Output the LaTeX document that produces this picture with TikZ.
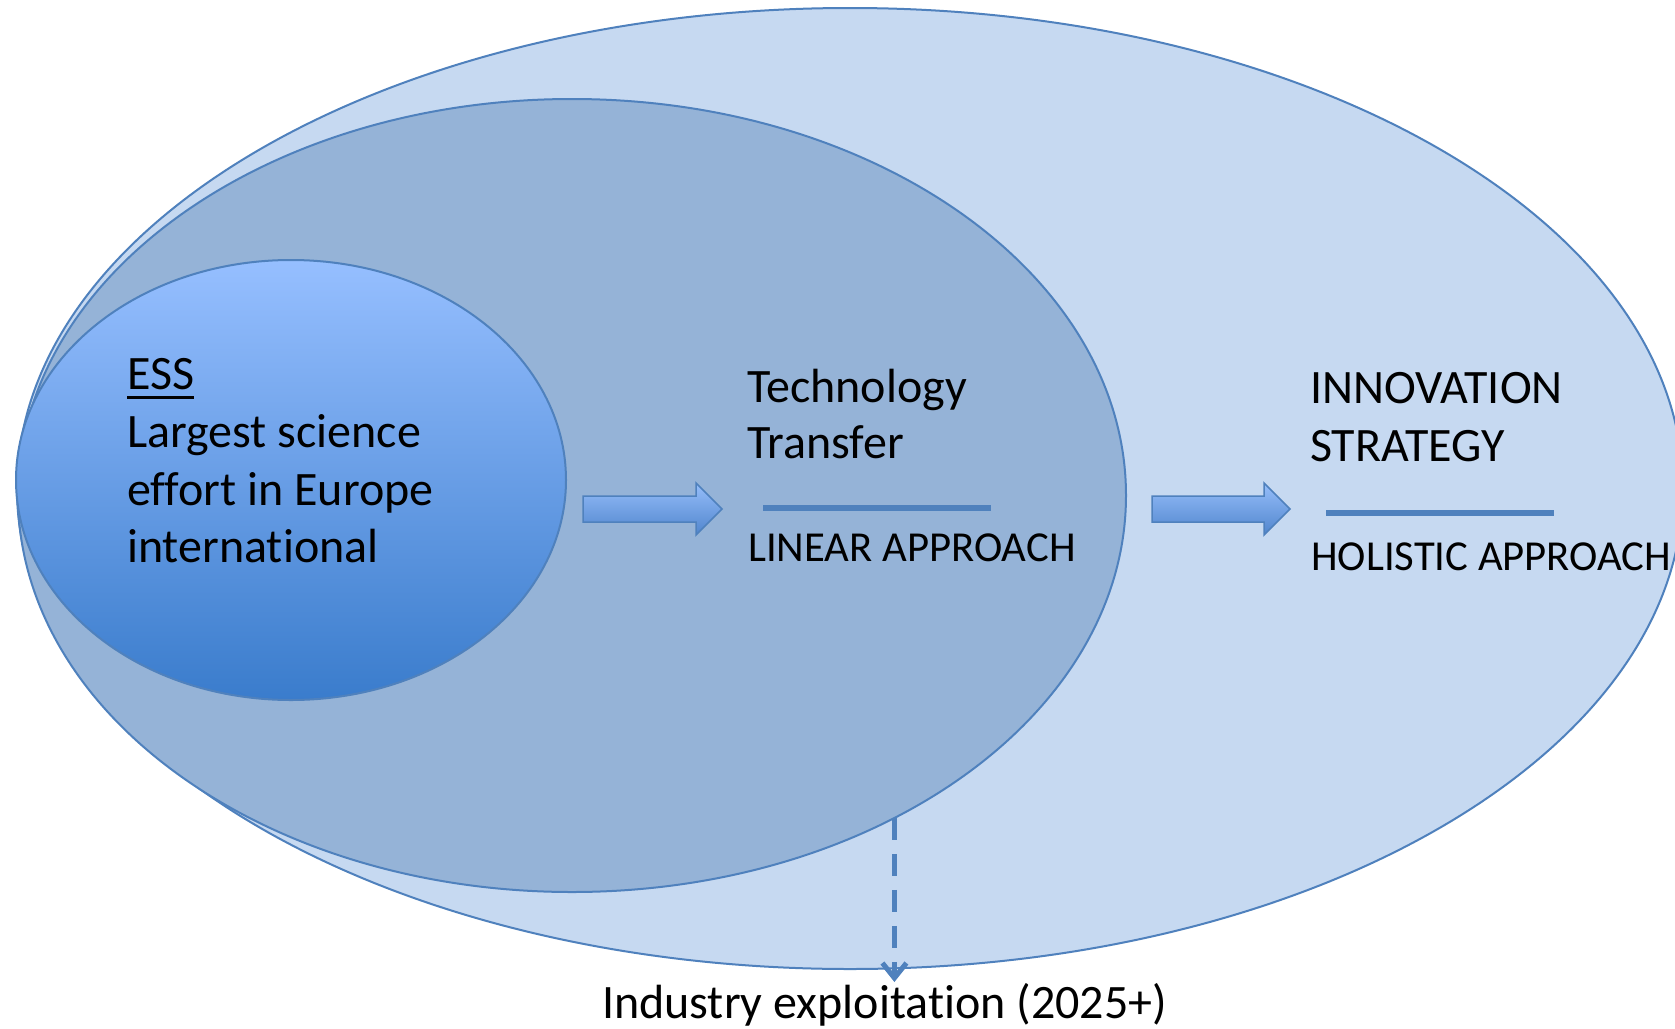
\documentclass[tikz,border=0pt]{standalone}
\usepackage{fontspec}
\setmainfont[Ligatures={NoCommon}]{Carlito}
\usetikzlibrary{shapes.geometric,arrows.meta}
\definecolor{outerfill}{RGB}{198,217,241}
\definecolor{midfill}{RGB}{149,179,215}
\definecolor{edgeblue}{RGB}{79,129,189}
\definecolor{innertop}{RGB}{150,191,255}
\definecolor{innerbot}{RGB}{58,124,204}
\definecolor{arrowtop}{RGB}{150,190,250}
\definecolor{arrowbot}{RGB}{80,133,205}
\newcommand{\essul}{{\setbox0\hbox{ESS}\rlap{\rule[-10pt]{\wd0}{3pt}}ESS}}
\begin{document}
\begin{tikzpicture}[x=1pt,y=-1pt,
  ring/.style={ellipse, draw=edgeblue, line width=2pt, inner sep=0pt, outer sep=0pt},
  txt/.style={anchor=base west, inner sep=0pt, font=\fontsize{48}{58}\selectfont},
  smalltxt/.style={anchor=base west, inner sep=0pt, font=\fontsize{42.7}{50}\selectfont},
  blockarrow/.style={draw=edgeblue, line width=1.5pt, top color=arrowtop, bottom color=arrowbot, line join=miter},
  sepline/.style={draw=edgeblue, line width=6pt},
  dashconn/.style={draw=edgeblue, line width=5pt, dash pattern=on 22pt off 14pt, -{Straight Barb[length=15pt,width=24pt]}}
  ]
\useasboundingbox (0,0) rectangle (1675,1028);
\fill[white] (0,0) rectangle (1675,1028);
\begin{scope}
\clip (0,0) rectangle (1675,1028);
\node[ring, fill=outerfill, minimum width=1666pt, minimum height=961pt] (outer) at (850,488.5) {};
\node[ring, fill=midfill, minimum width=1108pt, minimum height=793pt] (mid) at (572,495.5) {};
\node[ring, top color=innertop, bottom color=innerbot, minimum width=550pt, minimum height=440pt] (inner) at (291,480) {};
\end{scope}
% block arrows
\path[blockarrow] (583,496) -- (696,496) -- (696,483) -- (722,509) -- (696,535) -- (696,522) -- (583,522) -- cycle;
\path[blockarrow] (1152,496) -- (1264,496) -- (1264,483) -- (1290,509) -- (1264,535) -- (1264,522) -- (1152,522) -- cycle;
% separator lines
\draw[sepline] (763,508) -- (991,508);
\draw[sepline] (1326,513) -- (1554,513);
% texts
\node[txt] (ess1) at (127,389) {\essul};
\node[txt] (ess2) at (127,447) {Largest science};
\node[txt] (ess3) at (127,505) {effort in Europe};
\node[txt] (ess4) at (127,562) {international};
\node[txt] (tt1) at (747,402) {Technology};
\node[txt] (tt2) at (747,458) {Transfer};
\node[smalltxt] (lin) at (748,561) {LINEAR APPROACH};
\node[txt] (in1) at (1310,403) {INNOVATION};
\node[txt] (in2) at (1310,461) {STRATEGY};
\node[smalltxt] (hol) at (1311,570) {HOLISTIC APPROACH};
\node[txt, anchor=base] (ind) at (884.5,1018) {Industry exploitation (2025+)};
% dashed connector
\coordinate (dtip) at (891,982);
\draw[dashconn] (mid.-45.5) -- (mid.-45.5 |- dtip);
\end{tikzpicture}
\end{document}
